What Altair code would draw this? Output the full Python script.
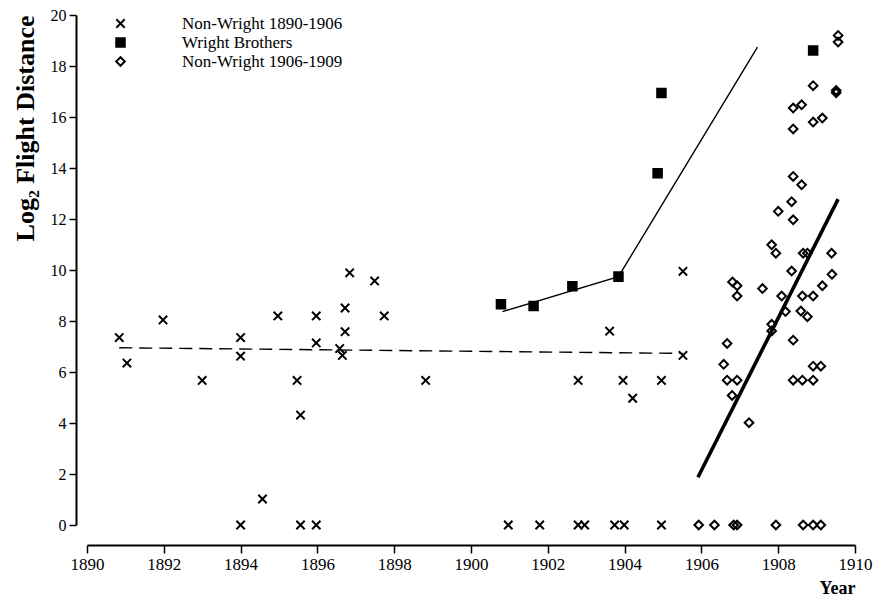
import altair as alt
import pandas as pd

SERIES = ["Non-Wright 1890-1906", "Wright Brothers", "Non-Wright 1906-1909"]

# Non-Wright 1890-1906 (x markers)
nw_early_year = [1890.84, 1891.04, 1891.98, 1893.0, 1894.0, 1894.0, 1894.0, 1894.57,
                 1894.97, 1895.47, 1895.56, 1895.56, 1895.97, 1895.97, 1895.97,
                 1896.58, 1896.65, 1896.72, 1896.72, 1896.84, 1897.49, 1897.74,
                 1898.82, 1900.97, 1901.79, 1902.79, 1902.79, 1902.96, 1903.61,
                 1903.74, 1903.96, 1903.99, 1904.21, 1904.96, 1904.96, 1905.52, 1905.52]
nw_early_val = [7.35, 6.35, 8.04, 5.67, 7.35, 6.62, 0.0, 1.02,
                8.2, 5.67, 4.31, 0.0, 8.2, 7.14, 0.0,
                6.92, 6.65, 7.58, 8.51, 9.89, 9.57, 8.2,
                5.67, 0.0, 0.0, 5.67, 0.0, 0.0, 7.6,
                0.0, 5.67, 0.0, 4.97, 5.67, 0.0, 9.95, 6.65]

# Wright Brothers (filled squares)
wright_year = [1900.78, 1901.63, 1902.64, 1903.84, 1904.86, 1904.96, 1908.91]
wright_val = [8.66, 8.59, 9.36, 9.74, 13.79, 16.94, 18.61]

# Non-Wright 1906-1909 (open diamonds)
nw_late_year = [1905.93, 1906.34, 1906.84, 1906.93, 1907.94, 1908.65, 1908.91, 1909.11,
                1906.80, 1907.24, 1906.67, 1906.93, 1908.39, 1908.63, 1908.91,
                1908.91, 1909.11, 1906.58, 1906.67, 1908.39, 1907.83, 1907.83,
                1908.19, 1908.59, 1908.76, 1908.09, 1908.63, 1908.91, 1906.93,
                1906.93, 1906.81, 1907.59, 1909.15, 1909.40, 1908.35, 1907.83,
                1907.94, 1908.65, 1908.76, 1909.39,
                1908.39, 1908.61, 1908.35, 1908.0, 1908.39,
                1909.56, 1909.56, 1908.91, 1909.51, 1909.51, 1908.39, 1908.61,
                1908.91, 1909.15, 1908.39]
nw_late_val = [0.0, 0.0, 0.0, 0.0, 0.0, 0.0, 0.0, 0.0,
               5.08, 4.01, 5.68, 5.68, 5.68, 5.68, 5.68,
               6.23, 6.23, 6.30, 7.12, 7.25, 7.87, 7.61,
               8.37, 8.39, 8.17, 8.98, 8.98, 8.98, 8.98,
               9.38, 9.53, 9.27, 9.38, 9.83, 9.96, 10.99,
               10.66, 10.66, 10.66, 10.66,
               13.67, 13.34, 12.68, 12.30, 11.97,
               19.2, 18.94, 17.23, 17.04, 16.95, 16.35, 16.48,
               15.8, 15.96, 15.53]

# Fitted lines
early_fit_year = [1890.84, 1905.52]
early_fit_val = [6.95, 6.73]
wright_fit_year = [1900.82, 1903.84, 1907.46]
wright_fit_val = [8.37, 9.74, 18.74]
late_fit_year = [1905.91, 1909.56]
late_fit_val = [1.87, 12.78]

pts = pd.concat([
    pd.DataFrame({"year": nw_early_year, "val": nw_early_val, "series": SERIES[0]}),
    pd.DataFrame({"year": wright_year, "val": wright_val, "series": SERIES[1]}),
    pd.DataFrame({"year": nw_late_year, "val": nw_late_val, "series": SERIES[2]}),
], ignore_index=True)

FONT = "Liberation Serif"
XPATH = "M-1,-1L1,1M-1,1L1,-1"

xscale = alt.Scale(domain=[1890, 1910], nice=False, zero=False)
yscale = alt.Scale(domain=[0, 20], nice=False)

xaxis = alt.Axis(
    values=list(range(1890, 1911)), format="d", labelFlush=False,
    labelExpr="datum.value % 2 === 0 ? datum.label : ''",
    tickSize={"condition": {"test": "datum.value % 2 === 0", "value": 8}, "value": 5},
    offset=20, title="Year", titleAnchor="end", titleFontWeight="bold",
    titleFontSize=18, titleFont=FONT, titleColor="black", titlePadding=7,
    grid=False, domainColor="black", domainWidth=2, tickColor="black", tickWidth=1.5,
    labelFont=FONT, labelFontSize=17, labelColor="black", labelPadding=3,
)
yaxis = alt.Axis(
    values=list(range(0, 21)), labelFlush=False,
    labelExpr="datum.value % 2 === 0 ? datum.label : ''",
    tickSize={"condition": {"test": "datum.value % 2 === 0", "value": 7}, "value": 4},
    offset=11, title="Log₂ Flight Distance", titleAnchor="end", titleFontWeight="bold",
    titleFontSize=26, titleFont=FONT, titleColor="black", titlePadding=12,
    grid=False, domainColor="black", domainWidth=2, tickColor="black", tickWidth=1.5,
    labelFont=FONT, labelFontSize=16, labelColor="black", labelPadding=3,
)

legend = alt.Legend(
    title=None, orient="none", legendX=25, legendY=0,
    labelFont=FONT, labelFontSize=17, labelColor="black", labelOffset=53,
    labelLimit=0, symbolStrokeWidth=2, rowPadding=1,
)

points = alt.Chart(pts).mark_point(strokeWidth=2, opacity=1).encode(
    x=alt.X("year:Q", scale=xscale, axis=xaxis),
    y=alt.Y("val:Q", scale=yscale, axis=yaxis),
    shape=alt.Shape("series:N", scale=alt.Scale(domain=SERIES, range=[XPATH, "square", "diamond"]), legend=legend),
    fill=alt.Fill("series:N", scale=alt.Scale(domain=SERIES, range=["transparent", "black", "transparent"]), legend=legend),
    stroke=alt.Stroke("series:N", scale=alt.Scale(domain=SERIES, range=["black", "black", "black"]), legend=legend),
    size=alt.Size("series:N", scale=alt.Scale(domain=SERIES, range=[70, 75, 50]), legend=legend),
)

early_line = alt.Chart(pd.DataFrame({"year": early_fit_year, "val": early_fit_val})).mark_line(
    color="black", strokeWidth=1.4, strokeDash=[13, 7]).encode(x="year:Q", y="val:Q")
wright_line = alt.Chart(pd.DataFrame({"year": wright_fit_year, "val": wright_fit_val})).mark_line(
    color="black", strokeWidth=1.4).encode(x="year:Q", y="val:Q")
late_line = alt.Chart(pd.DataFrame({"year": late_fit_year, "val": late_fit_val})).mark_line(
    color="black", strokeWidth=3.6).encode(x="year:Q", y="val:Q")

chart = alt.layer(early_line, wright_line, late_line, points).properties(
    width=768, height=510,
    autosize=alt.AutoSizeParams(type="none"),
    padding={"left": 79, "top": 7, "right": 20, "bottom": 80},
    background="white",
).configure_view(stroke=None)

chart.save("out.html", embed_options={"renderer": "svg", "actions": False})
